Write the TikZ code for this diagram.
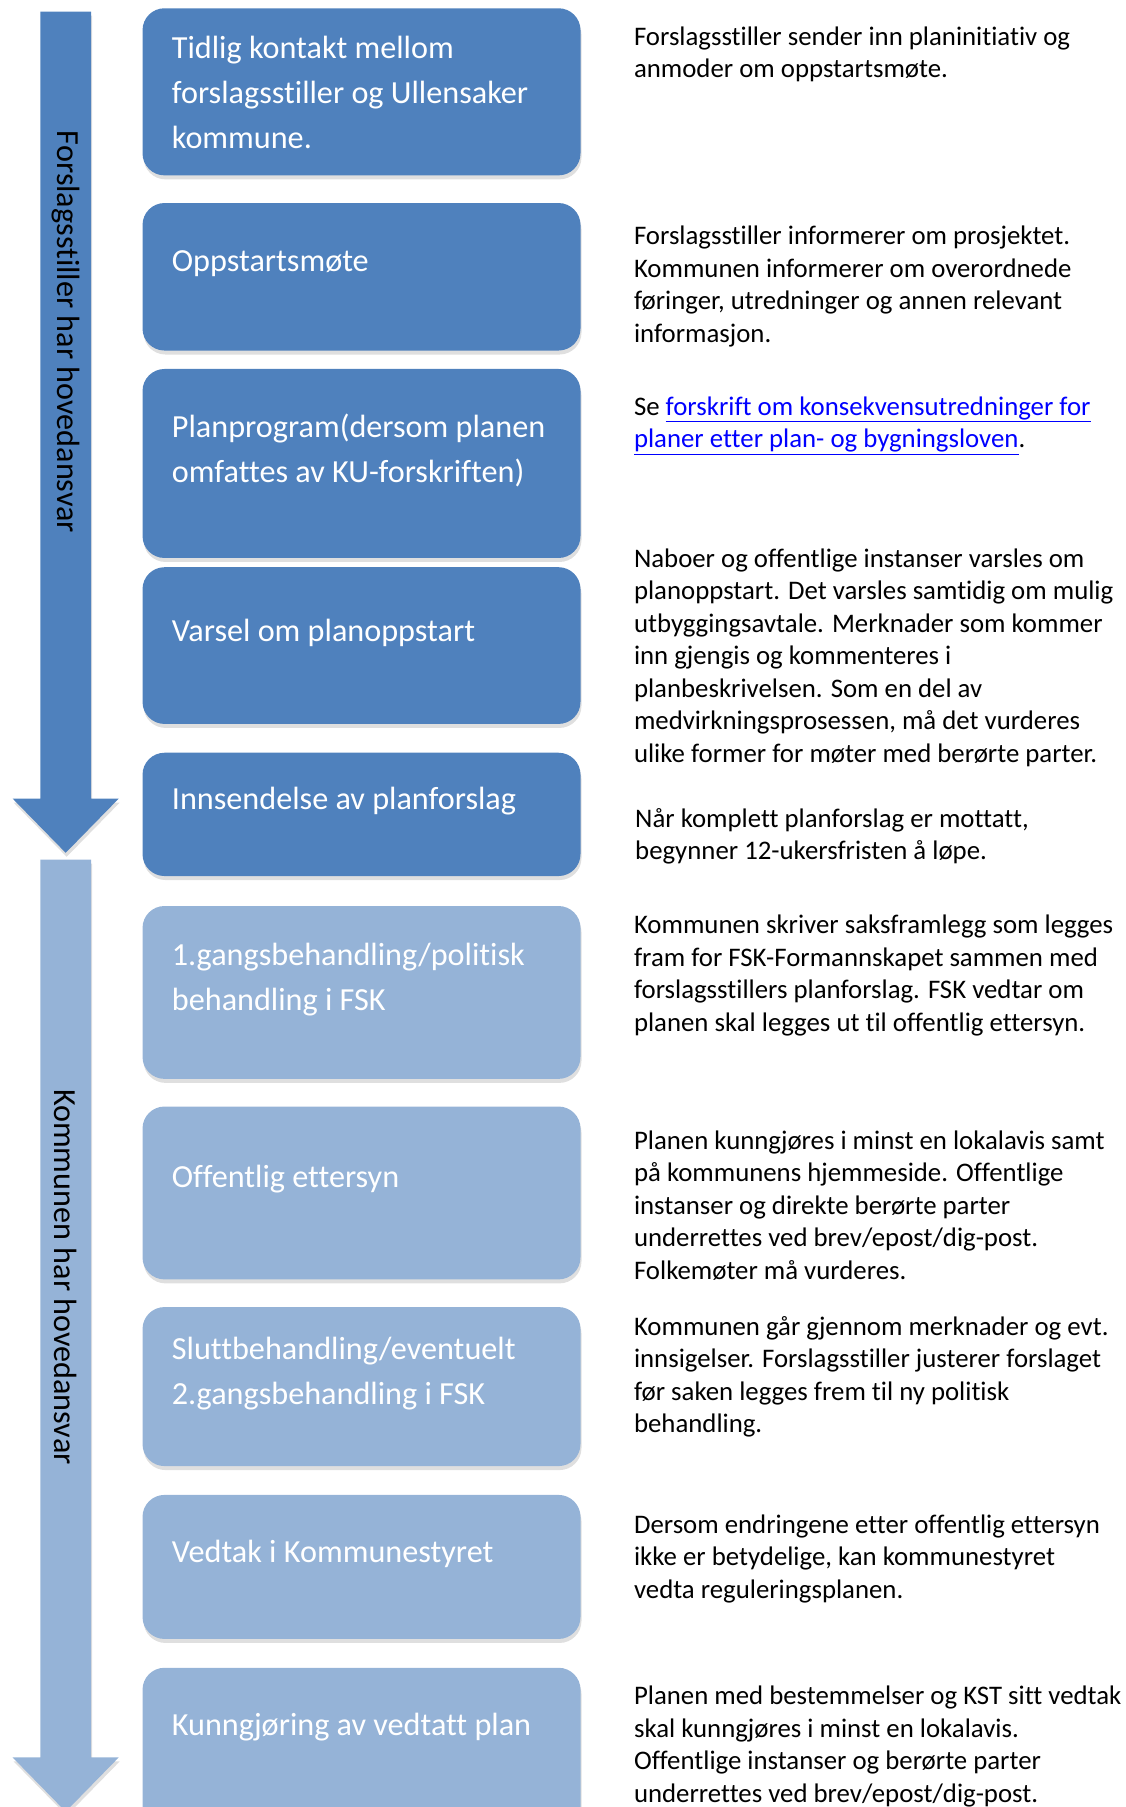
\documentclass[tikz,border=0pt]{standalone}
\usepackage{fontspec}
\setmainfont{Carlito}[Ligatures=NoCommon]
\usetikzlibrary{shadows}
\definecolor{darkblue}{HTML}{4F81BD}
\definecolor{lightblue}{HTML}{95B3D7}
\definecolor{linkblue}{HTML}{0000FF}
\tikzset{
  stepbox/.style={rounded corners=22pt, anchor=north west, minimum width=438pt, inner sep=0,
    drop shadow={opacity=.25, shadow xshift=1pt, shadow yshift=-4pt}},
  steptext/.style={anchor=north west, inner sep=0, align=left, text=white, font=\fontsize{32.2}{45}\selectfont},
  note/.style={anchor=north west, inner sep=0, align=left, font=\fontsize{26.8}{32.5}\selectfont},
  phase/.style={rotate=-90, inner sep=0, font=\fontsize{32.2}{36}\selectfont}
}
\newcommand{\link}[1]{\textcolor{linkblue}{\underline{#1}}}

\begin{document}
\begin{tikzpicture}[x=1.1525pt, y=-1.1525pt]
\useasboundingbox (0,0) rectangle (977,1568);
\clip (0,0) rectangle (977,1568);
\fill[darkblue, drop shadow={opacity=.25, shadow xshift=1pt, shadow yshift=-4pt}]
  (35,10) -- (79,10) -- (79,693) -- (103,693) -- (57,740) -- (11,693) -- (35,693) -- cycle;
\fill[lightblue, drop shadow={opacity=.25, shadow xshift=1pt, shadow yshift=-4pt}]
  (35,746) -- (79,746) -- (79,1525) -- (103,1525) -- (57,1572) -- (11,1525) -- (35,1525) -- cycle;
\node[phase] (ph1) at (57,288) {Forslagsstiller har hovedansvar};
\node[phase] (ph2) at (57,1108) {Kommunen har hovedansvar};
\foreach \n/\y/\h/\c/\ty/\txt in {
  1/7/145/darkblue/41/{Tidlig kontakt mellom\\forslagsstiller og Ullensaker\\kommune.},
  2/176/128/darkblue/227/Oppstartsmøte,
  3/320/164/darkblue/369/{Planprogram(dersom planen\\omfattes av KU-forskriften)},
  4/492/136/darkblue/547/Varsel om planoppstart,
  5/653/107/darkblue/693/Innsendelse av planforslag,
  6/786/150/lightblue/828/{1.gangsbehandling/politisk\\behandling i FSK},
  7/960/150/lightblue/1021/Offentlig ettersyn,
  8/1134/138/lightblue/1170/{Sluttbehandling/eventuelt\\2.gangsbehandling i FSK},
  9/1297/125/lightblue/1346/Vedtak i Kommunestyret,
  10/1447/150/lightblue/1496/Kunngjøring av vedtatt plan} {
  \node[stepbox, fill=\c, minimum height=\h*1.1525pt] (box\n) at (123.5,\y) {};
  \node[steptext] (lbl\n) at (149,\ty-10) {\txt};
}
\node[note] (n1) at (550,31-8) {Forslagsstiller sender inn planinitiativ og\\anmoder om oppstartsmøte.};
\node[note] (n2) at (550,204-8) {Forslagsstiller informerer om prosjektet.\\Kommunen informerer om overordnede\\føringer, utredninger og annen relevant\\informasjon.};
\node[note] (n3) at (550,352-8) {Se \link{forskrift om konsekvensutredninger for}\\\link{planer etter plan- og bygningsloven}.};
\node[note] (n4) at (550,484-8) {Naboer og offentlige instanser varsles om\\planoppstart. Det varsles samtidig om mulig\\utbyggingsavtale. Merknader som kommer\\inn gjengis og kommenteres i\\planbeskrivelsen. Som en del av\\medvirkningsprosessen, må det vurderes\\ulike former for møter med berørte parter.};
\node[note] (n5) at (551,709-8) {Når komplett planforslag er mottatt,\\begynner 12-ukersfristen å løpe.};
\node[note] (n6) at (550,802-8) {Kommunen skriver saksframlegg som legges\\fram for FSK-Formannskapet sammen med\\forslagsstillers planforslag. FSK vedtar om\\planen skal legges ut til offentlig ettersyn.};
\node[note] (n7) at (550,989-8) {Planen kunngjøres i minst en lokalavis samt\\på kommunens hjemmeside. Offentlige\\instanser og direkte berørte parter\\underrettes ved brev/epost/dig-post.\\Folkemøter må vurderes.};
\node[note] (n8) at (550,1150-8) {Kommunen går gjennom merknader og evt.\\innsigelser. Forslagsstiller justerer forslaget\\før saken legges frem til ny politisk\\behandling.};
\node[note] (n9) at (550,1322-8) {Dersom endringene etter offentlig ettersyn\\ikke er betydelige, kan kommunestyret\\vedta reguleringsplanen.};
\node[note] (n10) at (550,1471-8) {Planen med bestemmelser og KST sitt vedtak\\skal kunngjøres i minst en lokalavis.\\Offentlige instanser og berørte parter\\underrettes ved brev/epost/dig-post.};
\end{tikzpicture}
\end{document}
